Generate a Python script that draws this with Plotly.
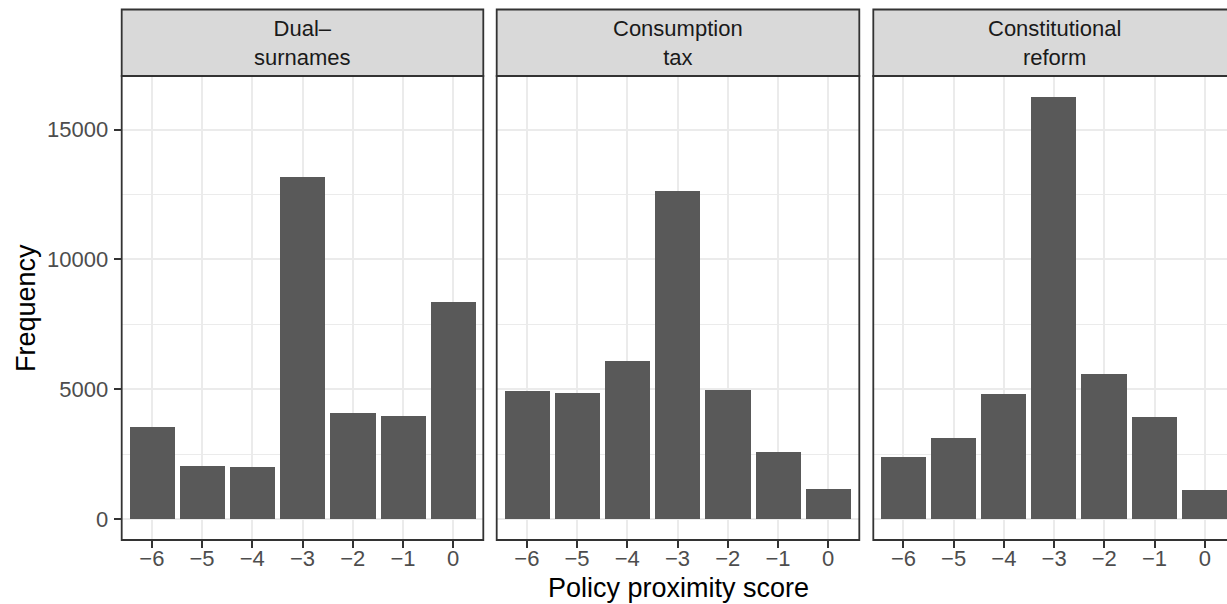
import plotly.graph_objects as go

W, H = 1227, 604

scores = [-6, -5, -4, -3, -2, -1, 0]
tick_labels = ["\u22126", "\u22125", "\u22124", "\u22123", "\u22122", "\u22121", "0"]
panel_names = ["Dual\u2013<br>surnames", "Consumption<br>tax", "Constitutional<br>reform"]
dual_surnames = [3550, 2050, 2010, 13170, 4090, 3980, 8370]
consumption_tax = [4940, 4860, 6090, 12630, 4980, 2590, 1170]
constitutional_reform = [2400, 3130, 4820, 16250, 5590, 3940, 1110]
series = [dual_surnames, consumption_tax, constitutional_reform]
y_ticks = [0, 5000, 10000, 15000]
y_minor = [2500, 7500, 12500]

FONT = "Liberation Sans, Arial, Helvetica, sans-serif"
BAR = "#595959"
GRID = "#EBEBEB"
BORDER = "#333333"
STRIP = "#D9D9D9"

# panel pixel geometry
panels_px = [(121.7, 483.3), (496.7, 859.3), (873.3, 1234.9)]
p_top, p_bot = 76.0, 540.0
strip_top = 9.5
px_per_unit = (panels_px[0][1] - panels_px[0][0]) / 7.2

fig = go.Figure()
M = max(max(s) for s in series)
yr = [-0.05 * M, 1.05 * M]

for i, vals in enumerate(series):
    xa = "x" if i == 0 else f"x{i+1}"
    ya = "y" if i == 0 else f"y{i+1}"
    fig.add_trace(go.Bar(x=scores, y=vals, width=0.9, marker=dict(color=BAR, line=dict(width=0)),
                         xaxis=xa, yaxis=ya, showlegend=False, hoverinfo="x+y"))

ydom = [1 - p_bot / H, 1 - p_top / H]
layout = dict(width=W, height=H, margin=dict(l=0, r=0, t=0, b=0),
              paper_bgcolor="white", plot_bgcolor="white", bargap=0,
              font=dict(family=FONT, color="#4D4D4D", size=22))

for i, (l, r) in enumerate(panels_px):
    key = "xaxis" if i == 0 else f"xaxis{i+1}"
    ykey = "yaxis" if i == 0 else f"yaxis{i+1}"
    d1 = min(r / W, 1.0)
    xmax = -6.6 + (d1 * W - l) / px_per_unit
    layout[key] = dict(domain=[l / W, d1], range=[-6.6, xmax], anchor="y" if i == 0 else f"y{i+1}",
                       tickmode="array", tickvals=scores, ticktext=tick_labels,
                       ticks="outside", ticklen=7, tickwidth=1.7, tickcolor=BORDER,
                       showgrid=True, gridcolor=GRID, gridwidth=2, zeroline=False,
                       showline=False, tickfont=dict(size=22, color="#4D4D4D", family=FONT),
                       ticklabelstandoff=-8, fixedrange=True)
    ya = dict(domain=ydom, range=yr, anchor="x" if i == 0 else f"x{i+1}",
              tickmode="array", tickvals=y_ticks, ticktext=[str(v) for v in y_ticks],
              showgrid=True, gridcolor=GRID, gridwidth=2, zeroline=False, showline=False,
              minor=dict(tickmode="array", tickvals=y_minor, showgrid=True, gridcolor=GRID, gridwidth=1.1, ticks=""),
              fixedrange=True)
    if i == 0:
        ya.update(ticks="outside", ticklen=7, tickwidth=1.7, tickcolor=BORDER,
                  tickfont=dict(size=22, color="#4D4D4D", family=FONT), ticklabelstandoff=1)
    else:
        ya.update(showticklabels=False, ticks="", matches="y")
    layout[ykey] = ya

shapes = []
annotations = []
for i, (l, r) in enumerate(panels_px):
    # panel border
    shapes.append(dict(type="rect", xref="paper", yref="paper", x0=l / W, x1=r / W,
                       y0=1 - p_bot / H, y1=1 - p_top / H, line=dict(color=BORDER, width=1.8),
                       fillcolor="rgba(0,0,0,0)", layer="above"))
    # strip
    shapes.append(dict(type="rect", xref="paper", yref="paper", x0=l / W, x1=r / W,
                       y0=1 - p_top / H, y1=1 - strip_top / H, line=dict(color=BORDER, width=1.8),
                       fillcolor=STRIP, layer="above"))
    cx = (l + r) / 2 / W
    annotations.append(dict(text=panel_names[i], xref="paper", yref="paper", x=cx,
                            y=1 - (strip_top + p_top) / 2 / H,
                            xanchor="center", yanchor="middle", showarrow=False, align="center",
                            font=dict(size=22, color="#1A1A1A", family=FONT)))

annotations.append(dict(text="Policy proximity score", xref="paper", yref="paper",
                        x=(panels_px[0][0] + panels_px[2][1]) / 2 / W, y=1 - 588 / H,
                        xanchor="center", yanchor="middle", showarrow=False,
                        font=dict(size=27, color="black", family=FONT)))
annotations.append(dict(text="Frequency", xref="paper", yref="paper",
                        x=26 / W, y=1 - 308 / H, textangle=-90,
                        xanchor="center", yanchor="middle", showarrow=False,
                        font=dict(size=27, color="black", family=FONT)))

layout["shapes"] = shapes
layout["annotations"] = annotations
fig.update_layout(**layout)
fig.write_html("out.html", config={"displayModeBar": False})
